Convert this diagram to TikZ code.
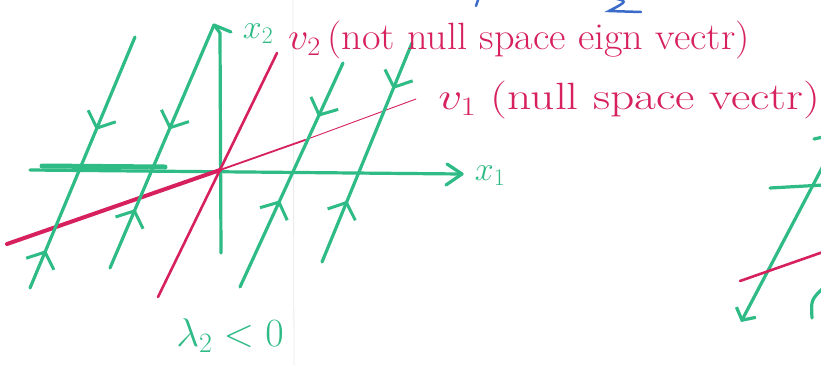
\RequirePackage{fix-cm}
\documentclass[tikz,border=0pt]{standalone}
\usetikzlibrary{arrows.meta,decorations.markings}
\definecolor{grn}{HTML}{2EBB85}
\definecolor{rd}{HTML}{D6215E}
\definecolor{blu}{HTML}{3A6BC8}
\tikzset{
  traj/.style={grn,line width=3.2pt,line cap=round,line join=round},
  redline/.style={rd,line cap=round},
  downbarb/.style={postaction={decorate,decoration={markings,
      mark=at position #1 with {\arrow[grn,line width=3pt]{Straight Barb[length=13pt,width=30pt]}}}}},
  upbarb/.style={postaction={decorate,decoration={markings,
      mark=at position #1 with {\arrow[grn,line width=3pt]{Straight Barb[length=13pt,width=30pt,reversed]}}}}},
  grtext/.style={text=grn,font=\fontsize{34}{40}\selectfont,inner sep=0pt},
  rdtext/.style={text=rd,font=\fontsize{38}{44}\selectfont,inner sep=0pt},
}
\begin{document}
\begin{tikzpicture}[x=1pt,y=-1pt]
\useasboundingbox (0,0) rectangle (821,365);
\fill[white] (0,0) rectangle (821,365);
% faint paper crease
\draw[black!8,line width=0.8pt] (293,0) -- (294,365);

% axes
\coordinate (o) at (220,171);
\coordinate (x1s) at (30,170);
\coordinate (x1e) at (462,174);
\draw[traj] (x1s) -- (x1e);
\draw[traj] (447,164) -- (x1e) -- (446,185);
\draw[grn,line width=5pt,line cap=round] (42,166) -- (165,167);
\node[grtext] (x1lab) at (490,176) {$x_1$};

\coordinate (x2s) at (221,253);
\coordinate (x2top) at (214,25);
\draw[traj] (x2s) -- (220,33) -- (x2top) -- (231,32);
\node[grtext] (x2lab) at (258,34) {$x_2$};

% eigenvector lines
\coordinate (v2a) at (158,297);
\coordinate (v2b) at (277,53);
\draw[redline,line width=2.6pt] (v2a) -- (v2b);

\coordinate (v1a) at (7,244);
\coordinate (v1m) at (220,170);
\coordinate (v1n) at (305,140);
\coordinate (v1b) at (416,99);
\draw[redline,line width=4pt] (v1a) -- (v1m);
\draw[redline,line width=1.8pt] (v1m) -- (v1n);
\draw[redline,line width=0.9pt] (v1n) -- (v1b);

% trajectories parallel to v2
\coordinate (aT) at (135,37);  \coordinate (aB) at (30,288);
\coordinate (bT) at (214,25);  \coordinate (bB) at (110,268);
\coordinate (cT) at (343,63);  \coordinate (cB) at (240,287);
\coordinate (dT) at (412,43);  \coordinate (dB) at (322,262);
\draw[traj,downbarb=0.37,upbarb=0.91] (aT) -- (aB);
\draw[traj,downbarb=0.43,upbarb=0.82] (bT) -- (bB);
\draw[traj,downbarb=0.24,upbarb=0.68] (cT) -- (cB);
\draw[traj,downbarb=0.21,upbarb=0.79] (dT) -- (dB);

% labels
\node[rdtext,anchor=west,xscale=1.06] (v2lab) at (288,40) {$v_2$\,(not null space eign vectr)};
\node[rdtext,anchor=west,xscale=1.25] (v1lab) at (438,100) {$v_1$\ (null space vectr)};
\node[grtext,font=\fontsize{40}{46}\selectfont] (lam) at (230,336) {$\lambda_2<0$};

% partial sketch at right edge
\coordinate (rT) at (823,166);
\coordinate (rB) at (741,322);
\draw[traj,-{Straight Barb[length=9pt,width=22pt]}] (rT) -- (rB);
\draw[traj] (770,188) -- (823,185);
\draw[redline,line width=2.6pt] (740,281) -- (823,252);
\draw[traj] (812,318) .. controls (811,300) .. (823,288);
\draw[traj] (814,139) -- (823,137);

% blue marks cut at top
\draw[blu,line width=2.5pt,line cap=round] (612,-2) .. controls (628,1) .. (609,11) -- (641,12);
\draw[blu,line width=2.5pt,line cap=round] (479,-3) -- (476,6);
\end{tikzpicture}
\end{document}
